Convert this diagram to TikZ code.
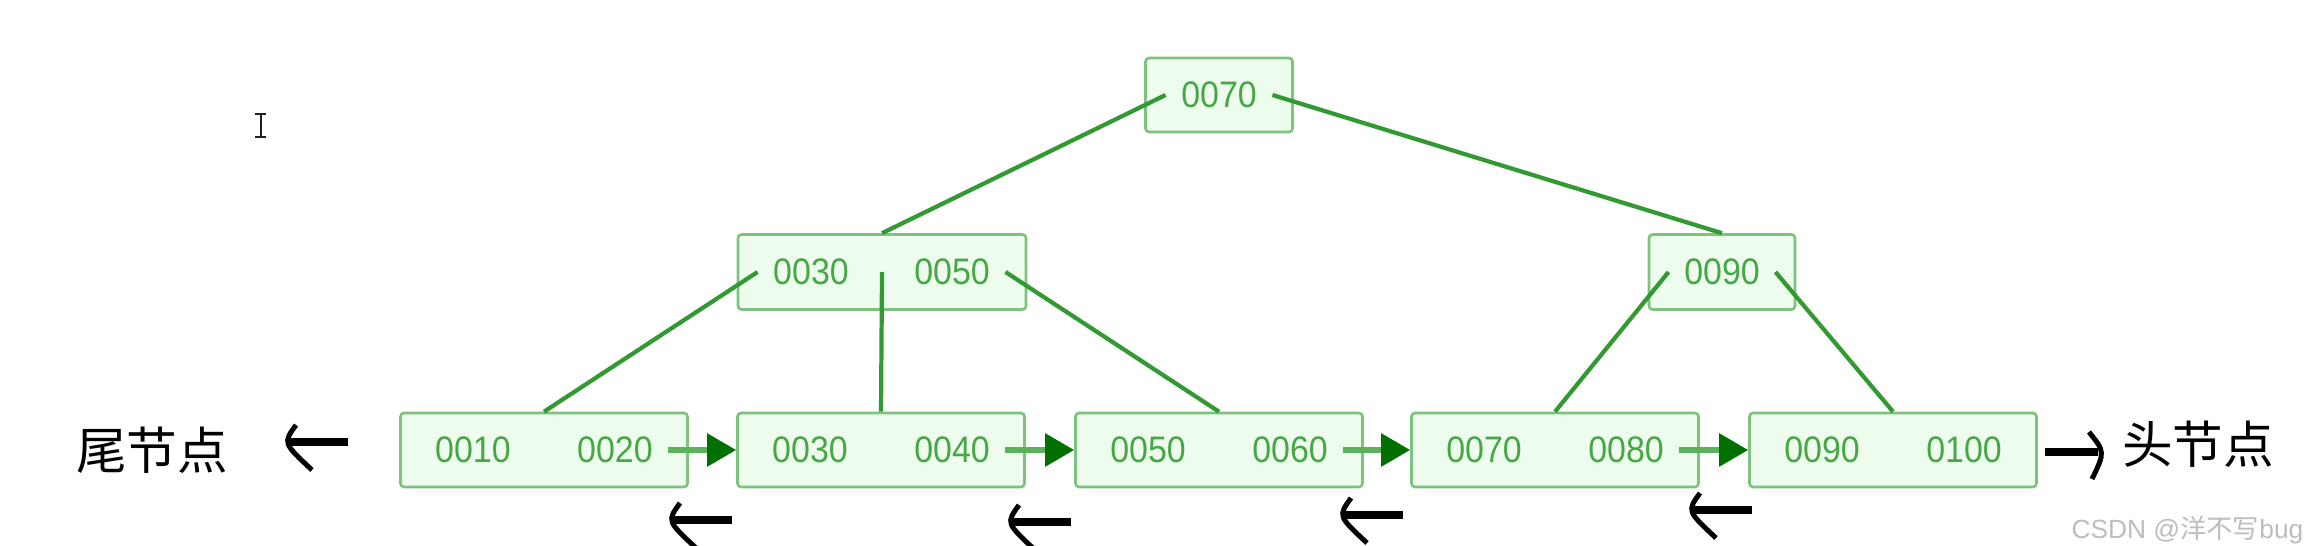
\documentclass[tikz,border=0pt]{standalone}
\usepackage{fontspec}
\setmainfont{Liberation Sans}
\newfontfamily\cjk{Noto Sans CJK SC}
\newfontfamily\keyfont[FakeStretch=0.92]{Liberation Sans}
\usetikzlibrary{positioning,arrows.meta}
\definecolor{keygreen}{HTML}{45A845}
\definecolor{boxline}{HTML}{7DC27D}
\definecolor{boxfill}{HTML}{EEFCEE}
\definecolor{treeline}{HTML}{339933}
\definecolor{linkline}{HTML}{5DB05D}
\definecolor{tipgreen}{HTML}{007000}
\definecolor{markgrey}{HTML}{BDBDBD}
\definecolor{cursorink}{HTML}{1C1C2C}
\tikzset{
  bp box/.style={draw=boxline, fill=boxfill, line width=0.75pt, rounded corners=1pt,
                 minimum height=7.4mm, inner sep=0pt},
  bp leaf/.style={bp box, minimum width=28.7mm},
  bp key/.style={text=keygreen, font=\keyfont\fontsize{10.5}{12}\selectfont, inner xsep=1.5mm, inner ysep=0pt},
  bp edge/.style={treeline, line width=1.2pt},
  bp link/.style={linkline, line width=1.6pt, -{Triangle[length=2.9mm, width=3.2mm, color=tipgreen]}},
  bp label/.style={font=\cjk\fontsize{14.4}{16}\selectfont, inner sep=0pt},
  hand left/.pic={
    \draw[line width=0.5mm] (0.09,0.17) .. controls (-0.04,-0.01) .. (0.25,-0.28);
    \draw[line width=0.85mm] (0.01,0) -- (0.61,0);
  },
  hand right/.pic={
    \draw[line width=0.85mm] (0,0) -- (0.53,0);
    \draw[line width=0.5mm] (0.44,0.20) .. controls (0.60,0.0) .. (0.47,-0.27);
  },
}
\begin{document}
\begin{tikzpicture}[x=1cm, y=1cm]
  \useasboundingbox (0,0) rectangle (23.04,5.45);
  \clip (0,0) rectangle (23.04,5.45);
  % inner levels
  \node[bp box, minimum width=14.7mm] (root) at (12.19,4.50) {};
  \node[bp key] (rk) at (root.center) {0070};
  \node[bp box, minimum width=28.8mm, minimum height=7.5mm] (m1) at (8.82,2.73) {};
  \node[bp key] (m1a) at ([xshift=-7.1mm]m1.center) {0030};
  \node[bp key] (m1b) at ([xshift=7.0mm]m1.center) {0050};
  \node[bp box, minimum width=14.6mm, minimum height=7.5mm] (m2) at (17.22,2.73) {};
  \node[bp key] (m2k) at (m2.center) {0090};
  % leaf level
  \foreach \i/\x/\a/\b in {1/5.44/0010/0020, 2/8.81/0030/0040, 3/12.19/0050/0060, 4/15.55/0070/0080, 5/18.93/0090/0100} {
    \node[bp leaf] (l\i) at (\x,0.95) {};
    \node[bp key] (l\i-a) at ([xshift=-7.1mm]l\i.center) {\a};
    \node[bp key] (l\i-b) at ([xshift=7.1mm]l\i.center) {\b};
  }
  % tree pointers
  \draw[bp edge] (rk.west) -- (m1.north);
  \draw[bp edge] (rk.east) -- (m2.north);
  \draw[bp edge] (m1a.west) -- (l1.north);
  \draw[bp edge] (m1.center) -- (l2.north);
  \draw[bp edge] (m1b.east) -- (l3.north);
  \draw[bp edge] (m2k.west) -- (l4.north);
  \draw[bp edge] (m2k.east) -- (l5.north);
  % leaf links
  \foreach \i/\j in {1/2,2/3,3/4,4/5} \draw[bp link] (l\i-b.east) -- (l\j.west);
  % hand-written notes
  \node[bp label] (tail) at (1.52,0.95) {尾节点};
  \node[bp label] (head) at (21.98,1.01) {头节点};
  \pic at (2.87,1.03) {hand left};
  \foreach \x/\y in {6.71/0.25, 10.10/0.23, 13.42/0.30, 16.91/0.35} \pic at (\x,\y) {hand left};
  \pic at (20.45,0.93) {hand right};
  % cursor
  \draw[cursorink, line width=0.2mm] (2.55,4.31) -- (2.66,4.31) (2.605,4.31) -- (2.605,4.08) (2.55,4.08) -- (2.66,4.08);
  \node[anchor=east, text=markgrey, font=\fontsize{7.5}{9}\selectfont, inner sep=0pt] (mark) at (23.04,0.15) {CSDN @{\cjk 洋不写}bug};
\end{tikzpicture}
\end{document}
